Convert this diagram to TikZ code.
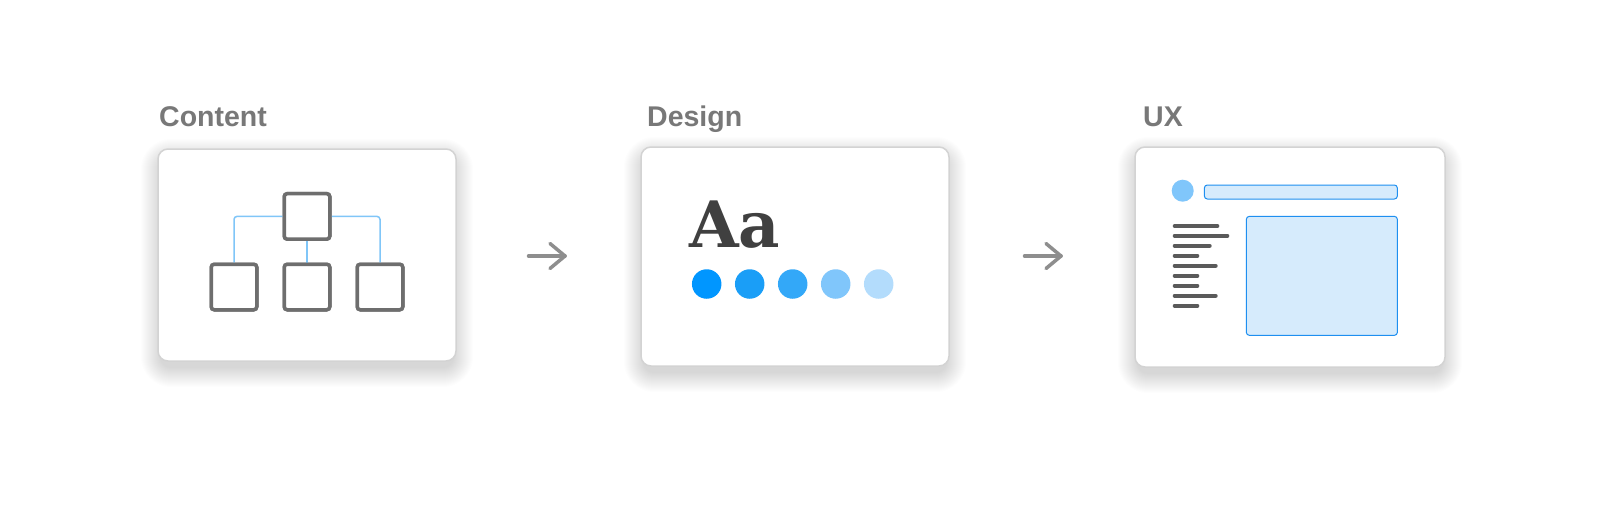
\documentclass[tikz,border=0pt]{standalone}
\usepackage{fontspec}
\setmainfont{Liberation Sans}
\newfontfamily\slabfont{DejaVu Serif}
\usetikzlibrary{calc}
\definecolor{titlegray}{HTML}{787878}
\definecolor{boxborder}{HTML}{D3D3D3}
\definecolor{sqgray}{HTML}{6E6E6E}
\definecolor{treeblue}{HTML}{80C6F8}
\definecolor{aagray}{HTML}{404040}
\definecolor{dotA}{HTML}{0096FF}
\definecolor{dotB}{HTML}{1A9EF7}
\definecolor{dotC}{HTML}{33A8F8}
\definecolor{dotD}{HTML}{80C6FB}
\definecolor{dotE}{HTML}{B3DCFC}
\definecolor{uxfill}{HTML}{D6EBFC}
\definecolor{uxline}{HTML}{1E8FF0}
\definecolor{txtline}{HTML}{5A5A5A}
\definecolor{arrowgray}{HTML}{8E8E8E}
\tikzset{
  title/.style={anchor=base west, inner sep=0pt, text=titlegray, font=\fontsize{28.5}{32}\selectfont\bfseries},
  card/.style={rectangle, rounded corners=10pt, draw=boxborder, line width=1.5pt, fill=white},
  sq/.style={rectangle, rounded corners=3pt, draw=sqgray, line width=3.5pt, fill=white,
    minimum width=45.5pt, minimum height=45.5pt, inner sep=0pt},
  treeline/.style={draw=treeblue, line width=1.5pt, rounded corners=3pt},
  dot/.style={circle, minimum size=29.5pt, inner sep=0pt},
  uxbox/.style={rectangle, rounded corners=3pt, draw=uxline, fill=uxfill, line width=1pt, inner sep=0pt},
  txt/.style={draw=txtline, line width=4pt, line cap=round},
  flowarrow/.style={draw=arrowgray, line width=3.5pt, line cap=round, line join=round}
}
\newcommand\mycardshadow[4]{%
  \foreach \i in {1,...,20}{%
    \pgfmathsetmacro\rr{10+\i}%
    \fill[black, opacity=0.0065, rounded corners=\rr pt]
      ({#1-#3/2-\i+3}, {#2-#4/2-\i+10}) rectangle ({#1+#3/2+\i-3}, {#2+#4/2+\i+6});
  }%
}
\begin{document}
\begin{tikzpicture}[x=1pt,y=-1pt]
\useasboundingbox (0,0) rectangle (1602,506);
\fill[white] (0,0) rectangle (1602,506);

% titles
\node[title] (tcontent) at (159,126) {Content};
\node[title] (tdesign) at (647,126) {Design};
\node[title] (tux) at (1143,126) {UX};

% card shadows
\mycardshadow{307}{255}{298}{212}
\mycardshadow{795}{256.5}{308}{219}
\mycardshadow{1290}{257}{310}{220}

% cards
\node[card, minimum width=298pt, minimum height=212pt] (card1) at (307,255) {};
\node[card, minimum width=308pt, minimum height=219pt] (card2) at (795,256.5) {};
\node[card, minimum width=310pt, minimum height=220pt] (card3) at (1290,257) {};

% content tree
\node[sq] (t) at (307,216.4) {};
\node[sq] (b1) at (234,287) {};
\node[sq] (b2) at (307,287) {};
\node[sq] (b3) at (380,287) {};
\draw[treeline] (t.west) -| (b1.north);
\draw[treeline] (t.east) -| (b3.north);
\draw[treeline] (t.south) -- (b2.north);
\node[sq] at (t) {};
\node[sq] at (b1) {};
\node[sq] at (b2) {};
\node[sq] at (b3) {};

% design
\node[anchor=base west, inner sep=0pt, text=aagray, font=\slabfont\fontsize{64}{64}\selectfont\bfseries] (aa) at (689,247.7) {Aa};
\node[dot, fill=dotA] (d1) at (706.7,284) {};
\node[dot, fill=dotB] (d2) at (749.7,284) {};
\node[dot, fill=dotC] (d3) at (792.7,284) {};
\node[dot, fill=dotD] (d4) at (835.7,284) {};
\node[dot, fill=dotE] (d5) at (878.7,284) {};

% ux
\node[circle, fill=dotD, minimum size=22pt, inner sep=0pt] (uxdot) at (1182.7,190.7) {};
\node[uxbox, minimum width=193pt, minimum height=14pt] (uxbar) at (1300.85,192) {};
\node[uxbox, minimum width=151pt, minimum height=119pt] (uxpanel) at (1321.85,275.85) {};
\foreach \yy/\xe in {226/1219.3, 235.7/1229.3, 245.7/1211.7, 255.7/1199.3, 265.7/1217.7, 275.7/1199.3, 285.7/1199.3, 295.7/1217.7, 305.7/1199.3}{
  \draw[txt] (1174.7,\yy) -- (\xe-2,\yy);
}

% arrows
\coordinate (a1s) at (528.5,256);
\coordinate (a1e) at (565,256);
\coordinate (a2s) at (1024.5,256);
\coordinate (a2e) at (1061,256);
\draw[flowarrow] (a1s) -- (a1e);
\draw[flowarrow] ($(a1e)+(-15,-12.5)$) -- (a1e) -- ($(a1e)+(-15,12.5)$);
\draw[flowarrow] (a2s) -- (a2e);
\draw[flowarrow] ($(a2e)+(-15,-12.5)$) -- (a2e) -- ($(a2e)+(-15,12.5)$);
\end{tikzpicture}
\end{document}
